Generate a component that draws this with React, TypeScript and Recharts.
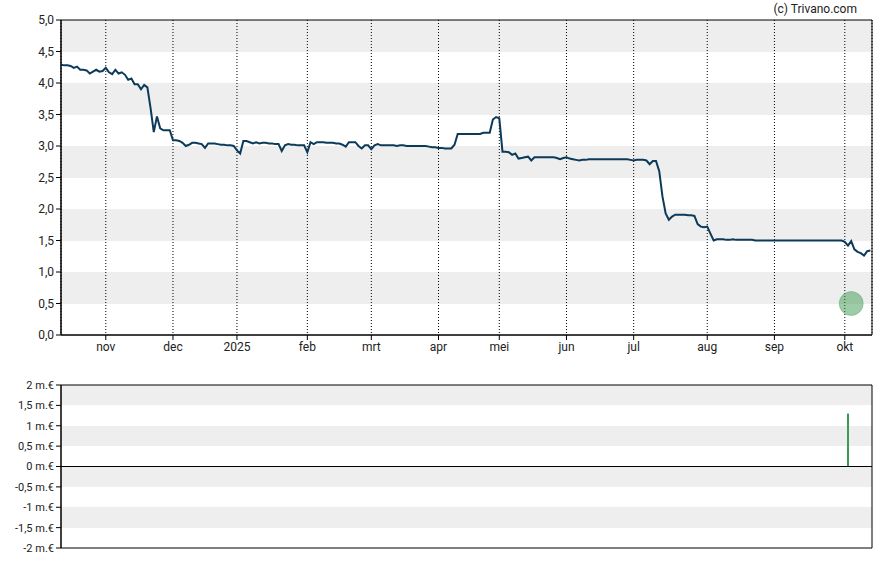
import React from 'react';
import {
  Bar,
  CartesianGrid,
  ComposedChart,
  Line,
  LineChart,
  ReferenceArea,
  ReferenceDot,
  ReferenceLine,
  XAxis,
  YAxis,
} from 'recharts';

// closing prices per trading day, grouped by month
const oct24 = [4.29, 4.28, 4.28, 4.27, 4.24, 4.26, 4.21, 4.21, 4.2, 4.15, 4.18, 4.21, 4.18, 4.19];
const nov24 = [4.24, 4.17, 4.14, 4.21, 4.15, 4.17, 4.13, 4.05, 4.07, 3.98, 3.98, 3.9, 3.97, 3.93, 3.6, 3.22, 3.47, 3.28, 3.25, 3.25, 3.25];
const dec24 = [3.09, 3.09, 3.08, 3.05, 3.0, 3.02, 3.05, 3.05, 3.04, 3.03, 2.97, 3.04, 3.04, 3.04, 3.03, 3.02, 3.02, 3.01, 3.01, 3.0];
const jan25 = [2.93, 2.88, 3.08, 3.08, 3.06, 3.04, 3.06, 3.04, 3.05, 3.05, 3.04, 3.04, 3.03, 3.03, 2.92, 3.01, 3.03, 3.02, 3.02, 3.01, 3.01, 3.01];
const feb25 = [2.9, 3.06, 3.03, 3.06, 3.06, 3.06, 3.05, 3.05, 3.05, 3.04, 3.04, 3.02, 2.99, 3.06, 3.06, 3.06, 3.0, 2.96, 3.01, 3.01];
const mar25 = [2.95, 3.01, 3.03, 3.01, 3.01, 3.01, 3.01, 3.01, 3.0, 3.01, 3.01, 3.0, 3.0, 3.0, 3.0, 3.0, 3.0, 3.0, 2.99, 2.98, 2.98];
const apr25 = [2.97, 2.97, 2.96, 2.96, 2.96, 3.02, 3.19, 3.19, 3.19, 3.19, 3.19, 3.19, 3.19, 3.19, 3.21, 3.21, 3.21, 3.42, 3.46];
const may25 = [3.44, 2.91, 2.91, 2.9, 2.86, 2.88, 2.8, 2.81, 2.82, 2.83, 2.77, 2.82, 2.82, 2.82, 2.82, 2.82, 2.82, 2.82, 2.81, 2.79, 2.81];
const jun25 = [2.82, 2.8, 2.79, 2.78, 2.77, 2.78, 2.78, 2.79, 2.79, 2.79, 2.79, 2.79, 2.79, 2.79, 2.79, 2.79, 2.79, 2.79, 2.79, 2.79, 2.78];
const jul25 = [2.77, 2.78, 2.78, 2.78, 2.77, 2.71, 2.76, 2.76, 2.6, 2.2, 1.93, 1.83, 1.88, 1.91, 1.91, 1.91, 1.91, 1.9, 1.9, 1.89, 1.76, 1.72, 1.71];
const aug25 = [1.72, 1.61, 1.5, 1.52, 1.52, 1.52, 1.51, 1.51, 1.52, 1.51, 1.51, 1.51, 1.51, 1.51, 1.51, 1.5, 1.5, 1.5, 1.5, 1.5, 1.5];
const sep25 = [1.5, 1.5, 1.5, 1.5, 1.5, 1.5, 1.5, 1.5, 1.5, 1.5, 1.5, 1.5, 1.5, 1.5, 1.5, 1.5, 1.5, 1.5, 1.5, 1.5, 1.5, 1.5];
const oct25 = [1.48, 1.42, 1.49, 1.36, 1.32, 1.3, 1.26, 1.33, 1.34];

const monthValues = [oct24, nov24, dec24, jan25, feb25, mar25, apr25, may25, jun25, jul25, aug25, sep25, oct25];
const monthLabels = ['', 'nov', 'dec', '2025', 'feb', 'mrt', 'apr', 'mei', 'jun', 'jul', 'aug', 'sep', 'okt'];

const priceTicks = [0, 0.5, 1, 1.5, 2, 2.5, 3, 3.5, 4, 4.5, 5];
const volumeTicks = [-2, -1.5, -1, -0.5, 0, 0.5, 1, 1.5, 2];

// volume in millions of euro
const volumeDays = [246];
const volumeValues = [1.3];

const eventDay = 247;
const eventLevel = 0.5;

const priceData = monthValues.flat().map((price, day) => ({ day, price }));
const lastDay = priceData.length - 1;
const xMax = lastDay + 0.5;
const monthTicks: number[] = [];
let acc = 0;
monthValues.forEach((m, i) => {
  if (i > 0) monthTicks.push(acc);
  acc += m.length;
});
const volumeData = volumeDays.map((day, i) => ({ day, volume: volumeValues[i] }));

const font = 'Roboto, "DejaVu Sans", sans-serif';
const tickStyle = { fill: '#222', fontSize: 12, fontFamily: font };
const stripes = ['#eeeeee', '#ffffff'];
const fmtComma = (v: number) => v.toFixed(1).replace('.', ',');
const fmtVol = (v: number) => `${String(v).replace('.', ',')} m.€`;
const fmtMonth = (v: number) => monthLabels[monthTicks.indexOf(v) + 1] ?? '';

export default function App() {
  return (
    <div style={{ position: 'absolute', left: 0, top: 0, width: 888, height: 565, background: '#fff' }}>
      <div
        style={{
          position: 'absolute',
          top: 2,
          left: 0,
          width: 857,
          textAlign: 'right',
          fontFamily: font,
          fontSize: 12,
          color: '#222',
        }}
      >
        (c) Trivano.com
      </div>
      <div style={{ position: 'absolute', left: 0, top: 0 }}>
        <LineChart width={888} height={365} data={priceData} margin={{ top: 20, right: 16, bottom: 0, left: 0 }}>
          <CartesianGrid vertical={false} horizontalFill={stripes} stroke="none" />
          <CartesianGrid horizontal={false} stroke="#000" strokeDasharray="1 2" />
          <XAxis
            dataKey="day"
            type="number"
            domain={[0, xMax]}
            ticks={monthTicks}
            interval={0}
            tickFormatter={fmtMonth}
            tick={tickStyle}
            tickSize={5}
            height={30}
            stroke="#000"
          />
          <YAxis
            type="number"
            domain={[0, 5]}
            ticks={priceTicks}
            interval={0}
            tickFormatter={fmtComma}
            tick={tickStyle}
            tickSize={5}
            width={61}
            stroke="#000"
          />
          <ReferenceArea x1={0} x2={xMax} y1={0} y2={5} fill="none" stroke="#000" strokeWidth={1} />
          <Line
            type="linear"
            dataKey="price"
            stroke="#0b3a5a"
            strokeWidth={2}
            dot={false}
            isAnimationActive={false}
          />
          <ReferenceDot x={eventDay} y={eventLevel} r={12} fill="#3d9950" fillOpacity={0.5} stroke="#3d9950" strokeOpacity={0.35} />
        </LineChart>
      </div>
      <div style={{ position: 'absolute', left: 0, top: 365 }}>
        <ComposedChart width={888} height={200} data={volumeData} margin={{ top: 20, right: 16, bottom: 17, left: 0 }}>
          <CartesianGrid vertical={false} horizontalFill={stripes} stroke="none" />
          <XAxis dataKey="day" type="number" domain={[0, xMax]} hide />
          <YAxis
            type="number"
            domain={[-2, 2]}
            ticks={volumeTicks}
            interval={0}
            tickFormatter={fmtVol}
            tick={{ ...tickStyle, fontSize: 11 }}
            tickSize={5}
            width={61}
            stroke="#000"
          />
          <ReferenceArea x1={0} x2={xMax} y1={-2} y2={2} fill="none" stroke="#000" strokeWidth={1} />
          <ReferenceLine y={0} stroke="#000" strokeWidth={1} />
          <Bar dataKey="volume" fill="#3a9a58" barSize={2} isAnimationActive={false} />
        </ComposedChart>
      </div>
    </div>
  );
}
